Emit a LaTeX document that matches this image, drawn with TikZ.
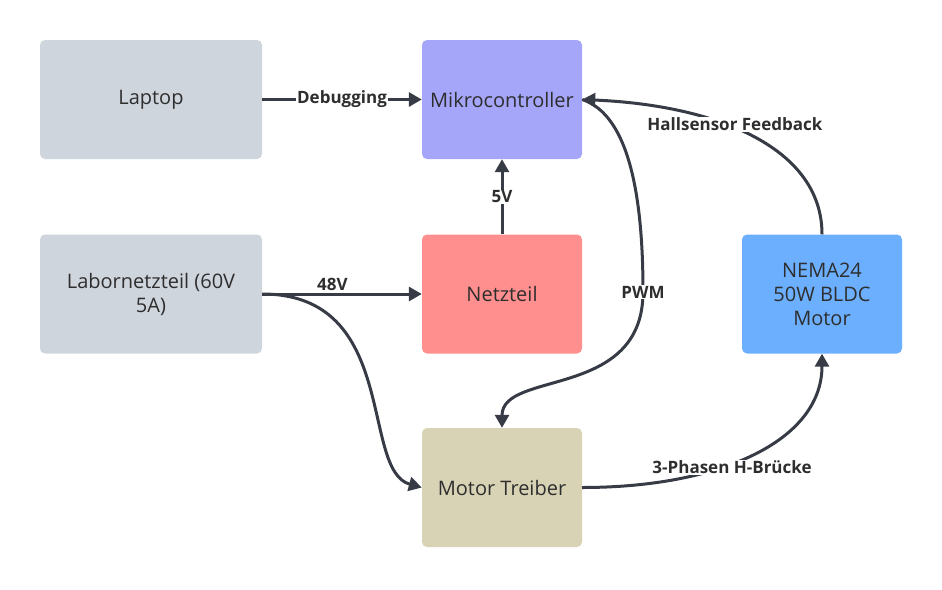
\documentclass[tikz,border=0pt]{standalone}
\usepackage{fontspec}
\setmainfont{Open Sans}
\usetikzlibrary{positioning, arrows.meta}
\definecolor{xgray}{HTML}{CFD5DD}
\definecolor{xpurple}{HTML}{A5A6F9}
\definecolor{xred}{HTML}{FF8E8E}
\definecolor{xtan}{HTML}{D9D3B6}
\definecolor{xblue}{HTML}{6BAFFE}
\definecolor{xline}{HTML}{363B45}
\definecolor{xtext}{HTML}{2E2E2E}
\tikzset{
	box/.style={rounded corners=5pt, minimum width=160pt, minimum height=119pt, text=xtext, font=\fontsize{20}{24}\selectfont, align=center},
	arrow/.style={line width=3pt, draw=xline, -{Triangle[length=13pt, width=14pt]}},
	lbl/.style={fill=white, text=xtext, font=\bfseries\fontsize{17}{20}\selectfont, inner sep=1pt},
}

\begin{document}
\begin{tikzpicture}[x=1pt, y=-1pt]
		\useasboundingbox (0,0) rectangle (942,589);
		% Blocks
		\node[box, fill=xgray, minimum width=222pt] (lap) at (151,99.5) {Laptop};
		\node[box, fill=xpurple] (mc) at (502,99.5) {Mikrocontroller};
		\node[box, fill=xgray, minimum width=222pt] (lab) at (151,294) {Labornetzteil (60V\\5A)};
		\node[box, fill=xred] (nt) at (502,294) {Netzteil};
		\node[box, fill=xtan] (mt) at (502,487.5) {Motor Treiber};
		\node[box, fill=xblue] (nema) at (822,294) {NEMA24\\50W BLDC\\Motor};
		\coordinate (pwm) at (643,292);

		% Connections
		\draw[arrow] (lap.east) -- node[lbl] {Debugging} (mc.west);
		\draw[arrow] (nt.north) -- node[lbl] {5V} (mc.south);
		\draw[arrow] (lab.east) -- node[lbl, pos=0.44, above=1pt, fill=none] {48V} (nt.west);
		\draw[arrow] (lab.east) .. controls +(138,0) and +(-62,-17) .. (mt.west);
		\draw[arrow] (mc.east) .. controls +(48,16) and +(0,-92) .. (pwm) node[lbl, pos=1] {PWM} .. controls +(0,108) and +(0,-58) .. (mt.north);
		\draw[arrow] (nema.north) .. controls +(0,-85) and +(138,6) .. node[lbl, pos=0.57, yshift=4pt] {Hallsensor Feedback} (mc.east);
		\draw[arrow] (mt.east) .. controls +(138,0) and +(0,87) .. node[lbl, pos=0.42, yshift=-4pt] {3-Phasen H-Brücke} (nema.south);
	\end{tikzpicture}
\end{document}
